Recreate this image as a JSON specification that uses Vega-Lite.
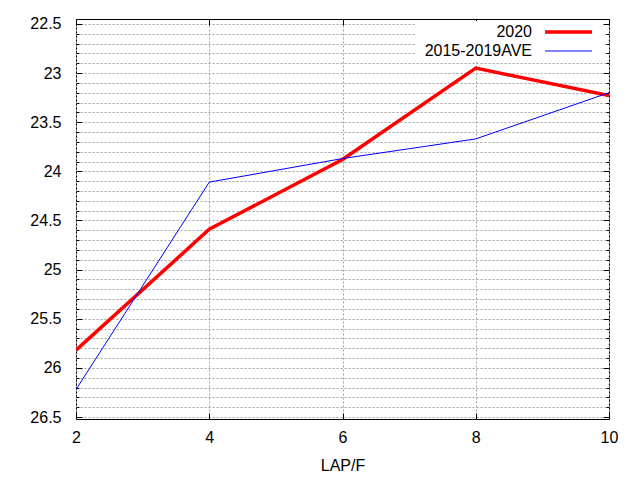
{
  "$schema": "https://vega.github.io/schema/vega-lite/v6.json",
  "width": 533,
  "height": 400,
  "autosize": "none",
  "padding": {"left": 76, "top": 19, "right": 31, "bottom": 61},
  "background": "white",
  "config": {
    "view": {"stroke": "black", "strokeWidth": 1},
    "font": "Liberation Sans",
    "axis": {
      "labelFont": "Liberation Sans",
      "labelFontSize": 16,
      "labelColor": "black",
      "titleFont": "Liberation Sans",
      "titleFontSize": 16,
      "titleFontWeight": "normal",
      "titleColor": "black",
      "domain": false,
      "tickColor": "black",
      "gridColor": "#a0a0a0",
      "gridDash": [2, 2],
      "gridWidth": 1
    }
  },
  "data": {
    "values": [
      {"lap": 2, "time": 25.82, "series": "2020"},
      {"lap": 4, "time": 24.59, "series": "2020"},
      {"lap": 6, "time": 23.88, "series": "2020"},
      {"lap": 8, "time": 22.95, "series": "2020"},
      {"lap": 10, "time": 23.23, "series": "2020"},
      {"lap": 2, "time": 26.22, "series": "2015-2019AVE"},
      {"lap": 4, "time": 24.11, "series": "2015-2019AVE"},
      {"lap": 6, "time": 23.87, "series": "2015-2019AVE"},
      {"lap": 8, "time": 23.67, "series": "2015-2019AVE"},
      {"lap": 10, "time": 23.2, "series": "2015-2019AVE"}
    ]
  },
  "layer": [
    {
      "mark": {"type": "line", "clip": true},
      "encoding": {
        "x": {
          "field": "lap",
          "type": "quantitative",
          "scale": {"domain": [2, 10], "nice": false, "zero": false},
          "axis": {
            "orient": "bottom",
            "title": "LAP/F",
            "values": [2, 4, 6, 8, 10],
            "grid": true,
            "labelFlush": false,
            "tickSize": -6,
            "labelPadding": 16,
            "titlePadding": 12
          }
        },
        "y": {
          "field": "time",
          "type": "quantitative",
          "scale": {"domain": [22.45, 26.52], "reverse": true, "nice": false, "zero": false},
          "axis": {
            "orient": "left",
            "title": null,
            "values": [22.5, 22.6, 22.7, 22.8, 22.9, 23, 23.1, 23.2, 23.3, 23.4, 23.5, 23.6, 23.7, 23.8, 23.9, 24, 24.1, 24.2, 24.3, 24.4, 24.5, 24.6, 24.7, 24.8, 24.9, 25, 25.1, 25.2, 25.3, 25.4, 25.5, 25.6, 25.7, 25.8, 25.9, 26, 26.1, 26.2, 26.3, 26.4, 26.5],
            "grid": true,
            "labelFlush": false,
            "labelExpr": "abs(datum.value * 2 - round(datum.value * 2)) < 0.01 ? format(datum.value, '~g') : ''",
            "tickSize": {"condition": {"test": "abs(datum.value * 2 - round(datum.value * 2)) < 0.01", "value": -6}, "value": -3},
            "labelPadding": 21
          }
        },
        "color": {
          "field": "series",
          "type": "nominal",
          "scale": {"domain": ["2020", "2015-2019AVE"], "range": ["#ff0000", "#0000ff"]},
          "legend": {
            "title": null,
            "orient": "none",
            "legendX": 340,
            "legendY": 2,
            "symbolType": "M20.1,0H28.1",
            "symbolSize": 138,
            "labelAlign": "right",
            "labelBaseline": "middle",
            "labelOffset": 97,
            "labelFontSize": 16,
            "labelFont": "Liberation Sans",
            "labelColor": "black",
            "fillColor": "white",
            "padding": 3,
            "rowPadding": 3
          }
        },
        "strokeWidth": {
          "field": "series",
          "type": "nominal",
          "scale": {"domain": ["2020", "2015-2019AVE"], "range": [3.5, 1]},
          "legend": null
        }
      }
    },
    {
      "mark": {"type": "line", "opacity": 0},
      "encoding": {
        "x": {
          "field": "lap",
          "type": "quantitative",
          "axis": {
            "orient": "top",
            "title": null,
            "values": [2, 4, 6, 8, 10],
            "labels": false,
            "grid": false,
            "tickSize": -6
          }
        },
        "y": {
          "field": "time",
          "type": "quantitative",
          "axis": {
            "orient": "right",
            "title": null,
            "values": [22.5, 22.6, 22.7, 22.8, 22.9, 23, 23.1, 23.2, 23.3, 23.4, 23.5, 23.6, 23.7, 23.8, 23.9, 24, 24.1, 24.2, 24.3, 24.4, 24.5, 24.6, 24.7, 24.8, 24.9, 25, 25.1, 25.2, 25.3, 25.4, 25.5, 25.6, 25.7, 25.8, 25.9, 26, 26.1, 26.2, 26.3, 26.4, 26.5],
            "labels": false,
            "grid": false,
            "tickSize": {"condition": {"test": "abs(datum.value * 2 - round(datum.value * 2)) < 0.01", "value": -6}, "value": -3}
          }
        },
        "detail": {"field": "series", "type": "nominal"}
      }
    }
  ],
  "resolve": {"axis": {"x": "independent", "y": "independent"}}
}
